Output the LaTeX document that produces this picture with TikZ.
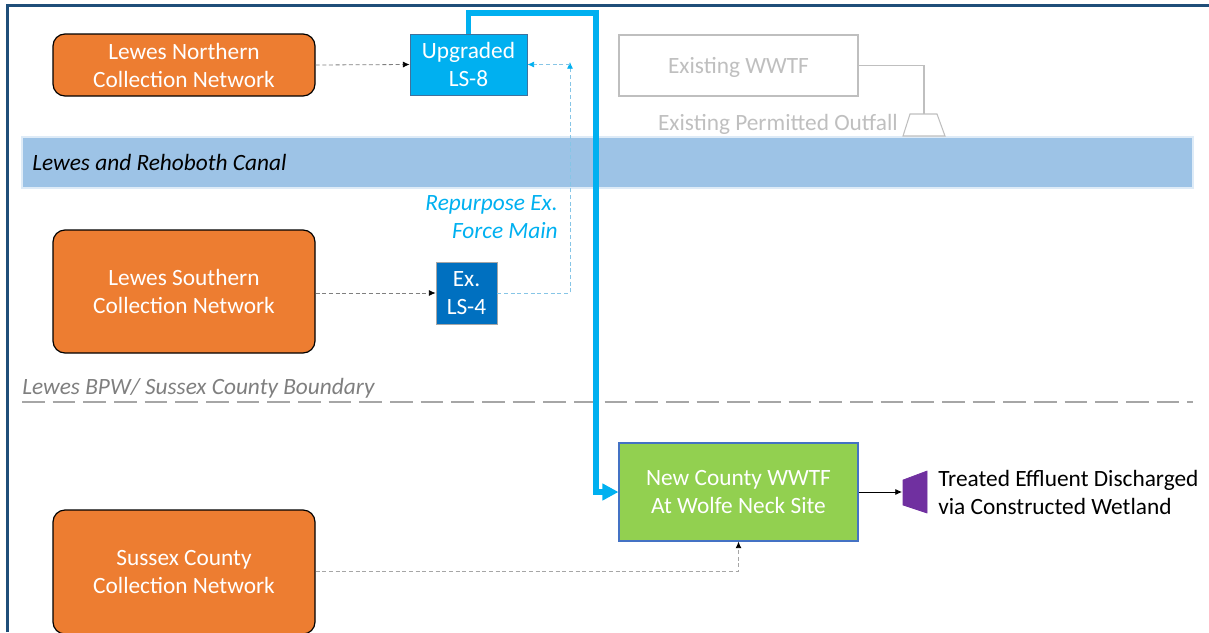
\documentclass[tikz,border=0pt]{standalone}
\usepackage{fontspec}
\setmainfont{Carlito}
\usetikzlibrary{arrows.meta}
\definecolor{frameblue}{HTML}{1F4E79}
\definecolor{orangebox}{HTML}{ED7D31}
\definecolor{lsblue}{HTML}{00B0F0}
\definecolor{lsborder}{HTML}{41719C}
\definecolor{lsdark}{HTML}{0070C0}
\definecolor{greenbox}{HTML}{92D050}
\definecolor{greenborder}{HTML}{4472C4}
\definecolor{canal}{HTML}{9DC3E6}
\definecolor{canalborder}{HTML}{DEEBF7}
\definecolor{ghost}{HTML}{BFBFBF}
\definecolor{dgray}{HTML}{7F7F7F}
\definecolor{lgray}{HTML}{A6A6A6}
\definecolor{fmblue}{HTML}{86C5E6}
\definecolor{wetpurple}{HTML}{7030A0}
\tikzset{
  txt/.style={font=\fontsize{17.5}{21}\selectfont, align=center, inner sep=0pt},
  network/.style={txt, draw=black, line width=0.9pt, fill=orangebox, rounded corners=9pt, text=white, minimum width=196.5pt},
  lsbox/.style={txt, draw=lsborder, line width=0.6pt, fill=lsblue, text=white},
  lsfour/.style={txt, draw=gray!70, line width=0.6pt, fill=lsdark, text=white},
  oldbox/.style={txt, draw=ghost, line width=0.8pt, fill=white, text=ghost},
  newbox/.style={txt, draw=greenborder, line width=0.8pt, fill=greenbox, text=white},
  gdash/.style={draw=dgray, line width=0.6pt, dash pattern=on 3pt off 2pt, -{Latex[length=5pt,width=4.5pt,black]}},
  ldash/.style={draw=lgray, line width=0.7pt, dash pattern=on 3pt off 2pt, -{Latex[length=5pt,width=4.5pt,black]}},
  bdash/.style={draw=fmblue, line width=0.6pt, dash pattern=on 3pt off 2pt, -{Latex[length=5pt,width=4.5pt,lsblue]}},
  mainpipe/.style={draw=lsblue, line width=3.8pt, -{Triangle[length=12pt,width=12pt]}},
}
\begin{document}
\begin{tikzpicture}[x=0.75pt,y=-0.75pt]
\useasboundingbox (0,0) rectangle (1209,632);
% frame
\draw[frameblue, line width=1.6pt] (7.5,632) -- (7.5,5.5) -- (1209,5.5);
% canal
\node[txt, draw=canalborder, line width=0.8pt, fill=canal, minimum width=878.25pt, minimum height=38.25pt] (canal) at (607.5,162.5) {};
\node[txt, anchor=west, font=\fontsize{17.5}{21}\selectfont\itshape] (canallbl) at (32,162) {Lewes and Rehoboth Canal};
% boxes
\node[network, minimum height=46.5pt] (north) at (184,65) {Lewes Northern\\Collection Network};
\node[lsbox, minimum width=87.75pt, minimum height=45.75pt] (ls8) at (468.5,64.5) {Upgraded\\LS-8};
\node[oldbox, text depth=0pt, minimum width=179.25pt, minimum height=45.75pt] (wwtf) at (738.5,65.5) {Existing WWTF};
\node[network, minimum height=92.25pt] (south) at (184,291.5) {Lewes Southern\\Collection Network};
\node[lsfour, minimum width=45.75pt, minimum height=46.5pt] (ls4) at (466.5,293) {Ex.\\LS-4};
\node[newbox, minimum width=179.25pt, minimum height=73.5pt] (new) at (738.5,492) {New County WWTF\\At Wolfe Neck Site};
\node[network, minimum height=93pt] (sussex) at (184,572) {Sussex County\\Collection Network};
% existing outfall
\draw[ghost, line width=0.8pt, fill=white] (910,114) -- (937,114) -- (945,136) -- (903,136) -- cycle;
\coordinate (outtop) at (924,114);
\draw[ghost, line width=0.8pt] (wwtf.east) -| (outtop);
\node[txt, anchor=east, text=ghost] (outlbl) at (898,124) {Existing Permitted Outfall};
% new outfall
\draw[wetpurple, fill=wetpurple, line width=0.5pt] (903,480) -- (927,471) -- (927,513) -- (903,505) -- cycle;
\coordinate (wet) at (902,492);
\node[txt, anchor=west, align=left] (wetlbl) at (938,492) {Treated Effluent Discharged\\via Constructed Wetland};
\draw[black, line width=0.6pt, -{Latex[length=5pt,width=4.5pt]}] (new.east) -- (wet);
% force main label
\node[txt, anchor=east, align=right, text=lsblue, font=\fontsize{17.5}{21}\selectfont\itshape] (fmlbl) at (558,217.5) {Repurpose Ex.\\Force Main};
% boundary
\node[txt, anchor=west, text=dgray, font=\fontsize{17.5}{21}\selectfont\itshape] (bndlbl) at (22,388) {Lewes BPW/ Sussex County Boundary};
\draw[lgray, line width=2.2pt, dash pattern=on 17pt off 6pt] (22,402) -- (1193,402);
% connectors
\draw[gdash] (north.east) -- (ls8.west);
\draw[gdash] (ls4.west -| south.east) -- (ls4.west);
\coordinate (fm) at (570,62);
\draw[bdash] (ls4.east) -| (fm);
\draw[bdash] (ls8.east -| fm) -- (ls8.east);
\draw[ldash] (sussex.east |- 0,571) -| (new.south);
\draw[mainpipe] (ls8.north) |- (596,13) |- (new.west);
\end{tikzpicture}
\end{document}
